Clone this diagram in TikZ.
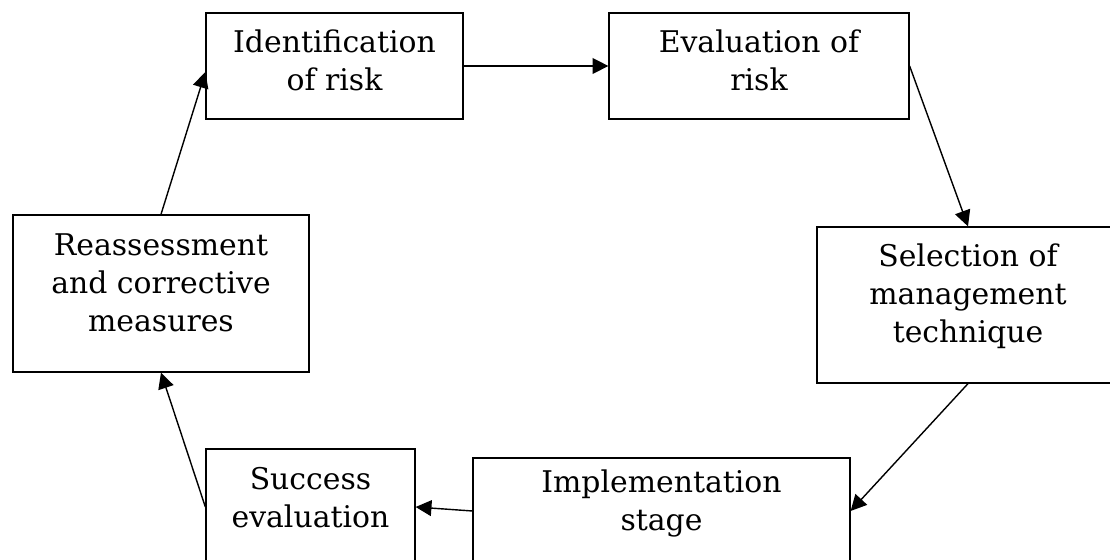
\documentclass[tikz,border=0pt]{standalone}
\usepackage{fontspec}
\setmainfont{DejaVu Serif}
\usetikzlibrary{arrows.meta}

\tikzset{
	stage/.style={draw, line width=0.75pt, align=center, inner sep=0pt, text depth=0pt,
		font=\fontsize{17}{21.8}\selectfont},
	flow/.style={line width=0.8pt, -{Triangle[length=9pt,width=9pt]}}
}

\begin{document}
\begin{tikzpicture}[x=0.02cm,y=0.02cm]
		\useasboundingbox (0,0) rectangle (1110,560);
		\node[stage, minimum width=5.14cm, minimum height=2.12cm, text height=1.0cm] (ident) at (334.5,494) {Identification\\of risk};
		\node[stage, minimum width=6.0cm, minimum height=2.12cm, text height=1.0cm] (eval) at (759,494) {Evaluation of\\risk};
		\node[stage, minimum width=6.04cm, minimum height=3.12cm, text height=1.52cm] (select) at (968,255) {Selection of\\management\\technique};
		\node[stage, minimum width=7.54cm, minimum height=2.12cm, text height=0.8cm] (impl) at (661.5,49) {Implementation\\stage};
		\node[stage, minimum width=4.18cm, minimum height=2.32cm, text height=0.84cm] (success) at (310.5,53) {Success\\evaluation};
		\node[stage, minimum width=5.92cm, minimum height=3.14cm, text height=1.54cm] (reassess) at (161,266.5) {Reassessment\\and corrective\\measures};
		\draw[flow] (ident.east) -- (eval.west);
		\draw[flow] (eval.east) -- (select.north);
		\draw[flow] (select.south) -- (impl.east);
		\draw[flow] (impl.west) -- (success.east);
		\draw[flow] (success.west) -- (reassess.south);
		\draw[flow] (reassess.north) -- ([yshift=-0.12cm]ident.west);
	\end{tikzpicture}
\end{document}
